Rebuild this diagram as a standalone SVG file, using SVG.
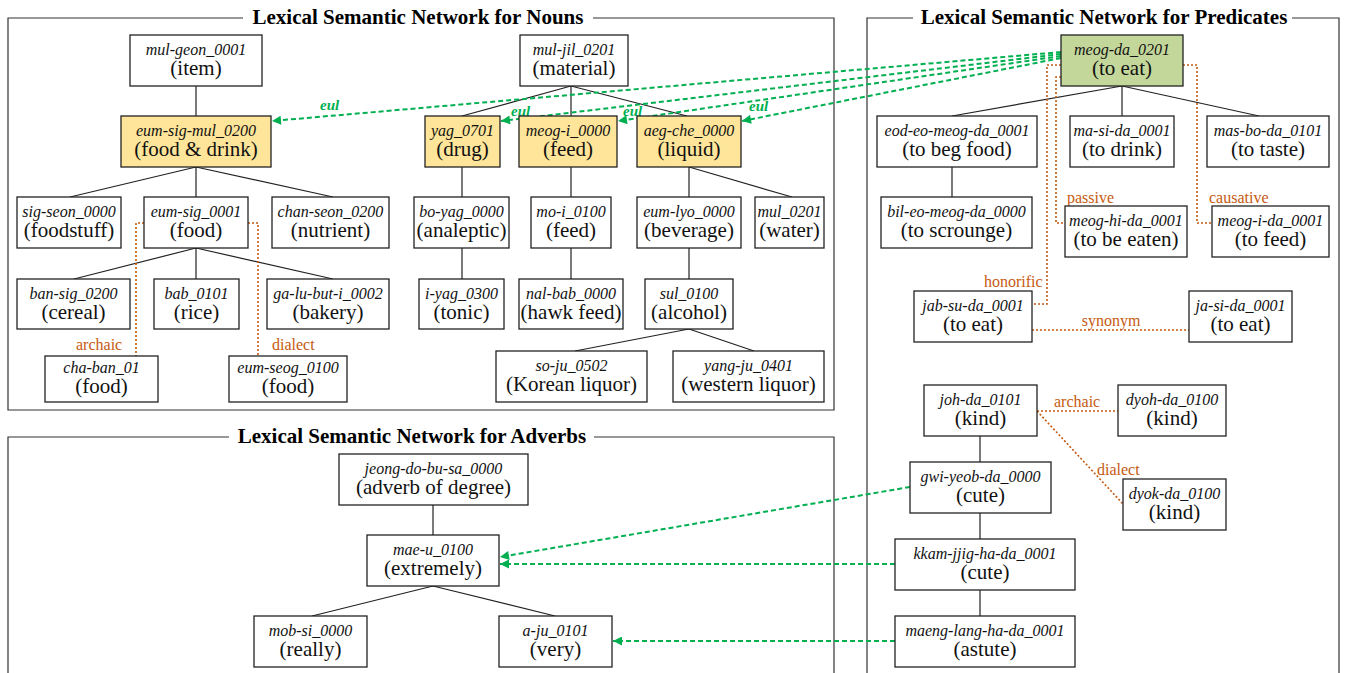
<svg xmlns="http://www.w3.org/2000/svg" width="1346" height="673" viewBox="0 0 1346 673">
<style>
.box{fill:#fff;stroke:#222;stroke-width:1.3}
.y{fill:#FFE599}
.g{fill:#C4D79B}
.id{font-family:"Liberation Serif",serif;font-style:italic;font-size:16px;text-anchor:middle;fill:#111}
.nm{font-family:"Liberation Serif",serif;font-size:21px;text-anchor:middle;fill:#111}
.title{font-family:"Liberation Serif",serif;font-weight:bold;font-size:21px;text-anchor:middle;fill:#000}
.panel{fill:none;stroke:#333;stroke-width:1.2}
.tree{fill:none;stroke:#222;stroke-width:1.2}
.rel{fill:none;stroke:#C55A11;stroke-width:1.6;stroke-dasharray:2 2}
.sem{fill:none;stroke:#00B050;stroke-width:2;stroke-dasharray:5 3;marker-end:url(#ah)}
.rl{font-family:"Liberation Serif",serif;font-size:16px;fill:#C55A11}
.el{font-family:"Liberation Serif",serif;font-style:italic;font-weight:bold;font-size:15px;fill:#00B050}
</style>
<defs>
<marker id="ah" viewBox="0 0 10 10" refX="10" refY="5" markerWidth="10" markerHeight="9" markerUnits="userSpaceOnUse" orient="auto">
<path d="M0,0 L10,5 L0,10 z" fill="#00B050"/>
</marker>
</defs>

<g id="panels">
<path class="panel" d="M243,18 H8 V410 H834 V18 H593"/>
<text class="title" x="418" y="24">Lexical Semantic Network for Nouns</text>
<path class="panel" d="M913,18 H867 V680 M1339,680 V18 H1292"/>
<text class="title" x="1104" y="24">Lexical Semantic Network for Predicates</text>
<path class="panel" d="M229,437 H8 V680 M834,680 V437 H594"/>
<text class="title" x="412" y="443">Lexical Semantic Network for Adverbs</text>
</g>

<g id="connectors">
<path class="tree" d="M196,86 V116 M196,167 L70,197 M196,167 V197 M196,167 L333,197 M196,248 L74,279 M196,248 V279 M196,248 L333,279"/>
<path class="tree" d="M571,86 L462,116 M571,86 V116 M571,86 L687,116 M462,167 V197 M462,248 V279 M571,167 V197 M571,248 V279 M689,167 V197 M689,167 L792,197 M689,248 V279 M689,329 L575,351 M689,329 L754,351"/>
<path class="tree" d="M1122,86 L952,116 M1122,86 V116 M1122,86 L1259,116 M952,167 V197 M980,436 V462 M980,513 V539 M980,590 V616"/>
<path class="tree" d="M433,505 V535 M433,586 L312,616 M433,586 L555,616"/>

<path class="rel" d="M144,223 H136 V356"/>
<path class="rel" d="M248,223 H258 V356"/>
<text class="rl" x="76" y="350">archaic</text>
<text class="rl" x="272" y="350">dialect</text>

<path class="rel" d="M1061,65 H1047 V304 H1032"/>
<path class="rel" d="M1061,77 H1056 V223 H1065"/>
<path class="rel" d="M1183,65 H1197 V223 H1212"/>
<path class="rel" d="M1032,330 H1189"/>
<path class="rel" d="M1037,411 H1118"/>
<path class="rel" d="M1037,411 L1123,504"/>
<text class="rl" x="984" y="287">honorific</text>
<text class="rl" x="1067" y="203">passive</text>
<text class="rl" x="1209" y="203">causative</text>
<text class="rl" x="1111" y="326" text-anchor="middle">synonym</text>
<text class="rl" x="1054" y="407">archaic</text>
<text class="rl" x="1097" y="475">dialect</text>

<path class="sem" d="M1061,52 L272,121"/>
<path class="sem" d="M1061,54 L501,121"/>
<path class="sem" d="M1061,56 L618,121"/>
<path class="sem" d="M1061,58 L742,121"/>
<text class="el" x="320" y="110">eul</text>
<text class="el" x="511" y="116">eul</text>
<text class="el" x="623" y="116">eul</text>
<text class="el" x="749" y="111">eul</text>

<path class="sem" d="M910,487 L500,557"/>
<path class="sem" d="M895,564 L500,564"/>
<path class="sem" d="M895,641 L613,641"/>
</g>

<g id="n-mul-geon"><rect class="box" x="130" y="35" width="132" height="51"/><text class="id" x="196" y="55">mul-geon_0001</text><text class="nm" x="196" y="75">(item)</text></g>
<g id="n-eum-sig-mul"><rect class="box y" x="121" y="116" width="150" height="51"/><text class="id" x="196" y="136">eum-sig-mul_0200</text><text class="nm" x="196" y="156">(food &amp; drink)</text></g>
<g id="n-mul-jil"><rect class="box" x="520" y="35" width="108" height="51"/><text class="id" x="574" y="55">mul-jil_0201</text><text class="nm" x="574" y="75">(material)</text></g>
<g id="n-yag"><rect class="box y" x="425" y="116" width="75" height="51"/><text class="id" x="462.5" y="136">yag_0701</text><text class="nm" x="462.5" y="156">(drug)</text></g>
<g id="n-meog-i"><rect class="box y" x="519" y="116" width="98" height="51"/><text class="id" x="568" y="136">meog-i_0000</text><text class="nm" x="568" y="156">(feed)</text></g>
<g id="n-aeg-che"><rect class="box y" x="637" y="116" width="104" height="51"/><text class="id" x="689" y="136">aeg-che_0000</text><text class="nm" x="689" y="156">(liquid)</text></g>
<g id="n-sig-seon"><rect class="box" x="17" y="197" width="104" height="51"/><text class="id" x="69" y="217">sig-seon_0000</text><text class="nm" x="69" y="237">(foodstuff)</text></g>
<g id="n-eum-sig"><rect class="box" x="144" y="197" width="104" height="51"/><text class="id" x="196" y="217">eum-sig_0001</text><text class="nm" x="196" y="237">(food)</text></g>
<g id="n-chan-seon"><rect class="box" x="272" y="197" width="117" height="51"/><text class="id" x="330.5" y="217">chan-seon_0200</text><text class="nm" x="330.5" y="237">(nutrient)</text></g>
<g id="n-ban-sig"><rect class="box" x="17" y="279" width="113" height="50"/><text class="id" x="73.5" y="299">ban-sig_0200</text><text class="nm" x="73.5" y="319">(cereal)</text></g>
<g id="n-bab"><rect class="box" x="154" y="279" width="85" height="50"/><text class="id" x="196.5" y="299">bab_0101</text><text class="nm" x="196.5" y="319">(rice)</text></g>
<g id="n-ga-lu-but-i"><rect class="box" x="267" y="279" width="122" height="50"/><text class="id" x="328" y="299">ga-lu-but-i_0002</text><text class="nm" x="328" y="319">(bakery)</text></g>
<g id="n-cha-ban"><rect class="box" x="45" y="356" width="113" height="46"/><text class="id" x="101.5" y="373">cha-ban_01</text><text class="nm" x="101.5" y="393">(food)</text></g>
<g id="n-eum-seog"><rect class="box" x="229" y="356" width="118" height="46"/><text class="id" x="288" y="373">eum-seog_0100</text><text class="nm" x="288" y="393">(food)</text></g>
<g id="n-bo-yag"><rect class="box" x="414" y="197" width="95" height="51"/><text class="id" x="461.5" y="217">bo-yag_0000</text><text class="nm" x="461.5" y="237">(analeptic)</text></g>
<g id="n-mo-i"><rect class="box" x="531" y="197" width="80" height="51"/><text class="id" x="571" y="217">mo-i_0100</text><text class="nm" x="571" y="237">(feed)</text></g>
<g id="n-eum-lyo"><rect class="box" x="637" y="197" width="104" height="51"/><text class="id" x="689" y="217">eum-lyo_0000</text><text class="nm" x="689" y="237">(beverage)</text></g>
<g id="n-mul"><rect class="box" x="755" y="197" width="69" height="51"/><text class="id" x="789.5" y="217">mul_0201</text><text class="nm" x="789.5" y="237">(water)</text></g>
<g id="n-i-yag"><rect class="box" x="419" y="279" width="85" height="50"/><text class="id" x="461.5" y="299">i-yag_0300</text><text class="nm" x="461.5" y="319">(tonic)</text></g>
<g id="n-nal-bab"><rect class="box" x="519" y="279" width="104" height="50"/><text class="id" x="571" y="299">nal-bab_0000</text><text class="nm" x="571" y="319">(hawk feed)</text></g>
<g id="n-sul"><rect class="box" x="645" y="279" width="88" height="50"/><text class="id" x="689" y="299">sul_0100</text><text class="nm" x="689" y="319">(alcohol)</text></g>
<g id="n-so-ju"><rect class="box" x="496" y="351" width="151" height="51"/><text class="id" x="571.5" y="371">so-ju_0502</text><text class="nm" x="571.5" y="391">(Korean liquor)</text></g>
<g id="n-yang-ju"><rect class="box" x="673" y="351" width="151" height="51"/><text class="id" x="748.5" y="371">yang-ju_0401</text><text class="nm" x="748.5" y="391">(western liquor)</text></g>

<g id="n-jeong-do-bu-sa"><rect class="box" x="339" y="454" width="189" height="51"/><text class="id" x="433.5" y="474">jeong-do-bu-sa_0000</text><text class="nm" x="433.5" y="494">(adverb of degree)</text></g>
<g id="n-mae-u"><rect class="box" x="367" y="535" width="132" height="51"/><text class="id" x="433" y="555">mae-u_0100</text><text class="nm" x="433" y="575">(extremely)</text></g>
<g id="n-mob-si"><rect class="box" x="254" y="616" width="113" height="51"/><text class="id" x="310.5" y="636">mob-si_0000</text><text class="nm" x="310.5" y="656">(really)</text></g>
<g id="n-a-ju"><rect class="box" x="499" y="616" width="113" height="51"/><text class="id" x="555.5" y="636">a-ju_0101</text><text class="nm" x="555.5" y="656">(very)</text></g>

<g id="n-meog-da"><rect class="box g" x="1061" y="35" width="122" height="51"/><text class="id" x="1122" y="55">meog-da_0201</text><text class="nm" x="1122" y="75">(to eat)</text></g>
<g id="n-eod-eo-meog-da"><rect class="box" x="877" y="116" width="160" height="51"/><text class="id" x="957" y="136">eod-eo-meog-da_0001</text><text class="nm" x="957" y="156">(to beg food)</text></g>
<g id="n-ma-si-da"><rect class="box" x="1070" y="116" width="104" height="51"/><text class="id" x="1122" y="136">ma-si-da_0001</text><text class="nm" x="1122" y="156">(to drink)</text></g>
<g id="n-mas-bo-da"><rect class="box" x="1207" y="116" width="122" height="51"/><text class="id" x="1268" y="136">mas-bo-da_0101</text><text class="nm" x="1268" y="156">(to taste)</text></g>
<g id="n-bil-eo-meog-da"><rect class="box" x="881" y="197" width="151" height="51"/><text class="id" x="956.5" y="217">bil-eo-meog-da_0000</text><text class="nm" x="956.5" y="237">(to scrounge)</text></g>
<g id="n-meog-hi-da"><rect class="box" x="1065" y="206" width="122" height="51"/><text class="id" x="1126" y="226">meog-hi-da_0001</text><text class="nm" x="1126" y="246">(to be eaten)</text></g>
<g id="n-meog-i-da"><rect class="box" x="1212" y="206" width="117" height="51"/><text class="id" x="1270.5" y="226">meog-i-da_0001</text><text class="nm" x="1270.5" y="246">(to feed)</text></g>
<g id="n-jab-su-da"><rect class="box" x="914" y="291" width="118" height="51"/><text class="id" x="973" y="311">jab-su-da_0001</text><text class="nm" x="973" y="331">(to eat)</text></g>
<g id="n-ja-si-da"><rect class="box" x="1189" y="291" width="103" height="51"/><text class="id" x="1240.5" y="311">ja-si-da_0001</text><text class="nm" x="1240.5" y="331">(to eat)</text></g>
<g id="n-joh-da"><rect class="box" x="924" y="385" width="113" height="51"/><text class="id" x="980.5" y="405">joh-da_0101</text><text class="nm" x="980.5" y="425">(kind)</text></g>
<g id="n-dyoh-da"><rect class="box" x="1118" y="385" width="108" height="51"/><text class="id" x="1172" y="405">dyoh-da_0100</text><text class="nm" x="1172" y="425">(kind)</text></g>
<g id="n-dyok-da"><rect class="box" x="1123" y="479" width="103" height="51"/><text class="id" x="1174.5" y="499">dyok-da_0100</text><text class="nm" x="1174.5" y="519">(kind)</text></g>
<g id="n-gwi-yeob-da"><rect class="box" x="910" y="462" width="141" height="51"/><text class="id" x="980.5" y="482">gwi-yeob-da_0000</text><text class="nm" x="980.5" y="502">(cute)</text></g>
<g id="n-kkam-jjig-ha-da"><rect class="box" x="895" y="539" width="180" height="51"/><text class="id" x="985" y="559">kkam-jjig-ha-da_0001</text><text class="nm" x="985" y="579">(cute)</text></g>
<g id="n-maeng-lang-ha-da"><rect class="box" x="895" y="616" width="180" height="51"/><text class="id" x="985" y="636">maeng-lang-ha-da_0001</text><text class="nm" x="985" y="656">(astute)</text></g>
</svg>
